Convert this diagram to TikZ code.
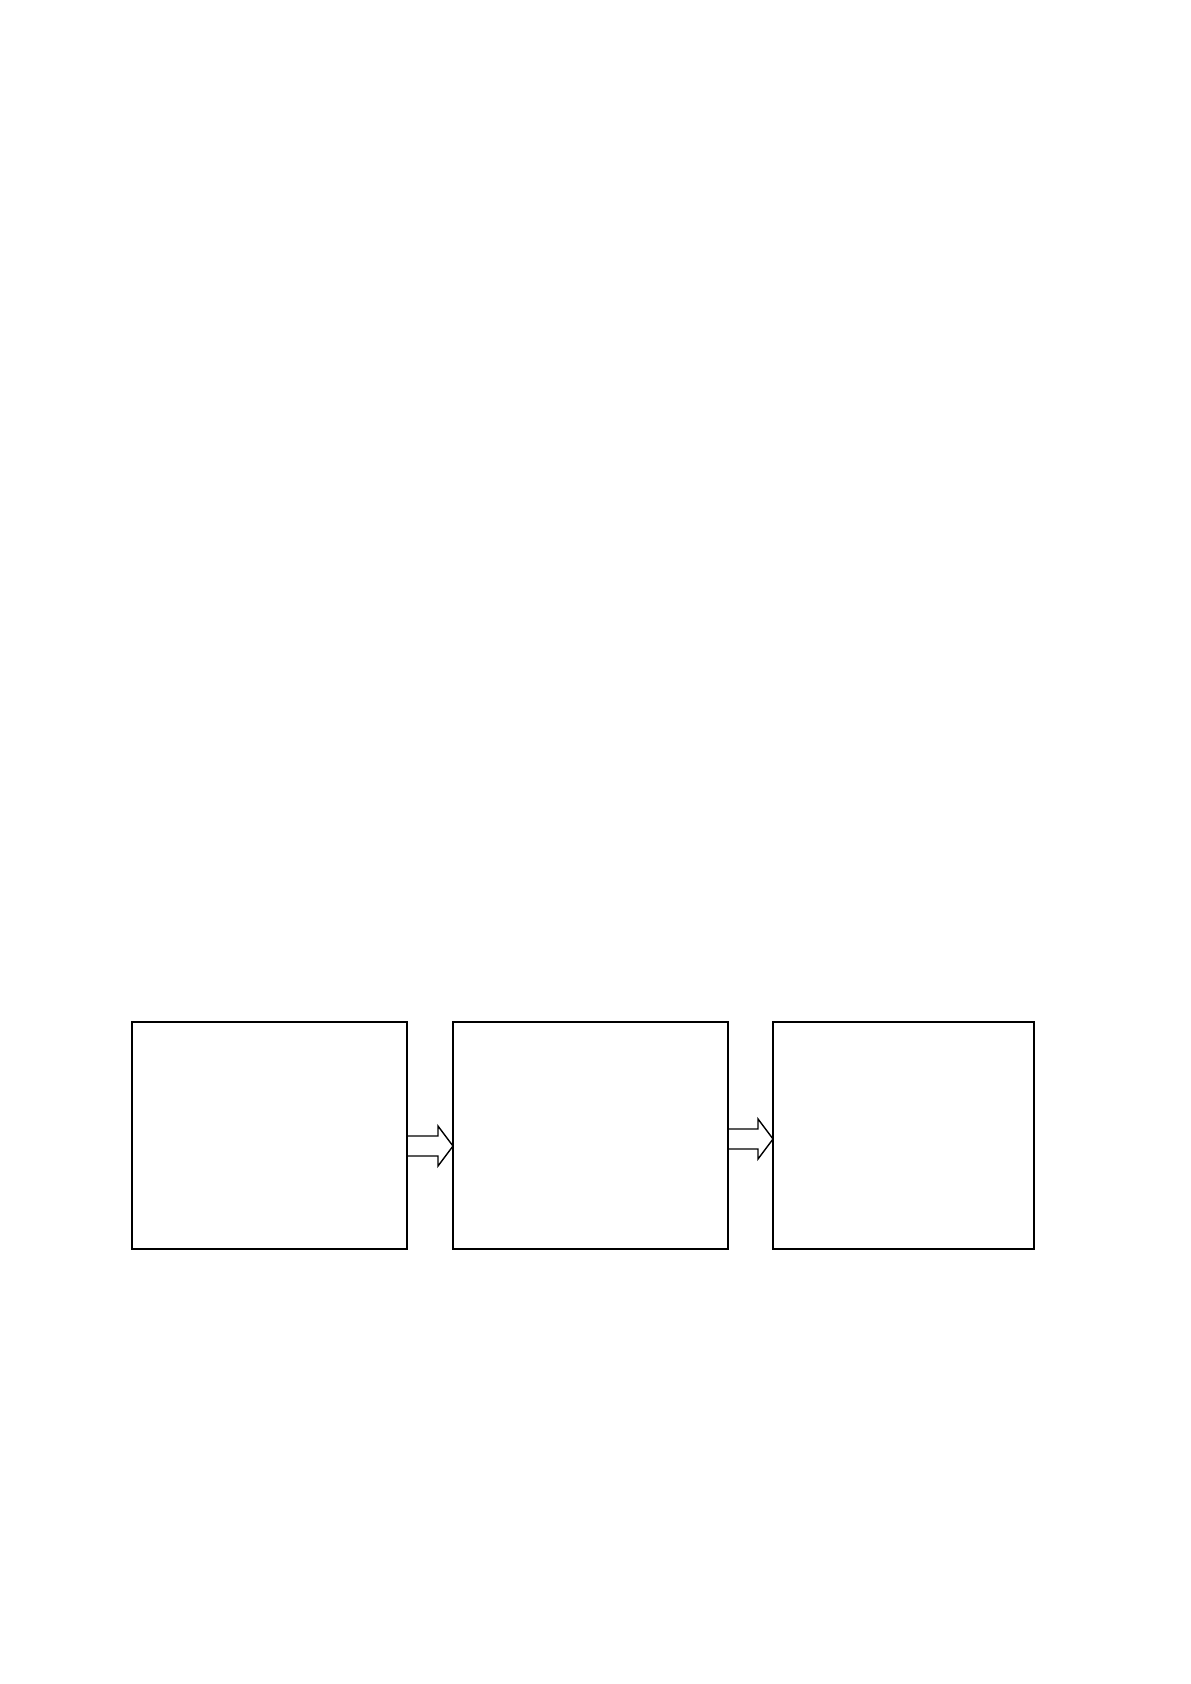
\documentclass[tikz,border=0pt]{standalone}
\usetikzlibrary{positioning,calc}

\begin{document}
\begin{tikzpicture}[
  x=0.5pt, y=-0.5pt,
  every node/.style={draw,line width=0.8pt,inner sep=0pt,outer sep=0pt,minimum height=113.5pt},
  wide/.style={minimum width=137.5pt},
  narrow/.style={minimum width=130.5pt},
  fatarrow/.style={draw,line width=0.7pt,line join=miter},
  ]
  \useasboundingbox (0,0) rectangle (1190,1684);

  \node[wide](b1) at (269.5,1135.5) {};
  \node[wide,right=23pt of b1.east,anchor=west](b2) {};
  \node[narrow,right=22.5pt of b2.east,anchor=west](b3) {};

  % block arrows between the boxes
  \coordinate (s1) at ([yshift=-5.25pt]b1.east);
  \coordinate (t1) at (b2.west |- s1);
  \coordinate (s2) at ([yshift=-1.75pt]b2.east);
  \coordinate (t2) at (b3.west |- s2);
  \foreach \s/\t in {s1/t1,s2/t2}{
    \draw[fatarrow] ($(\s)+(0,-10)$) -- ($(\t)+(-15,-10)$) -- ($(\t)+(-15,-20)$)
      -- (\t) -- ($(\t)+(-15,20)$) -- ($(\t)+(-15,10)$) -- ($(\s)+(0,10)$);
  }
\end{tikzpicture}
\end{document}
